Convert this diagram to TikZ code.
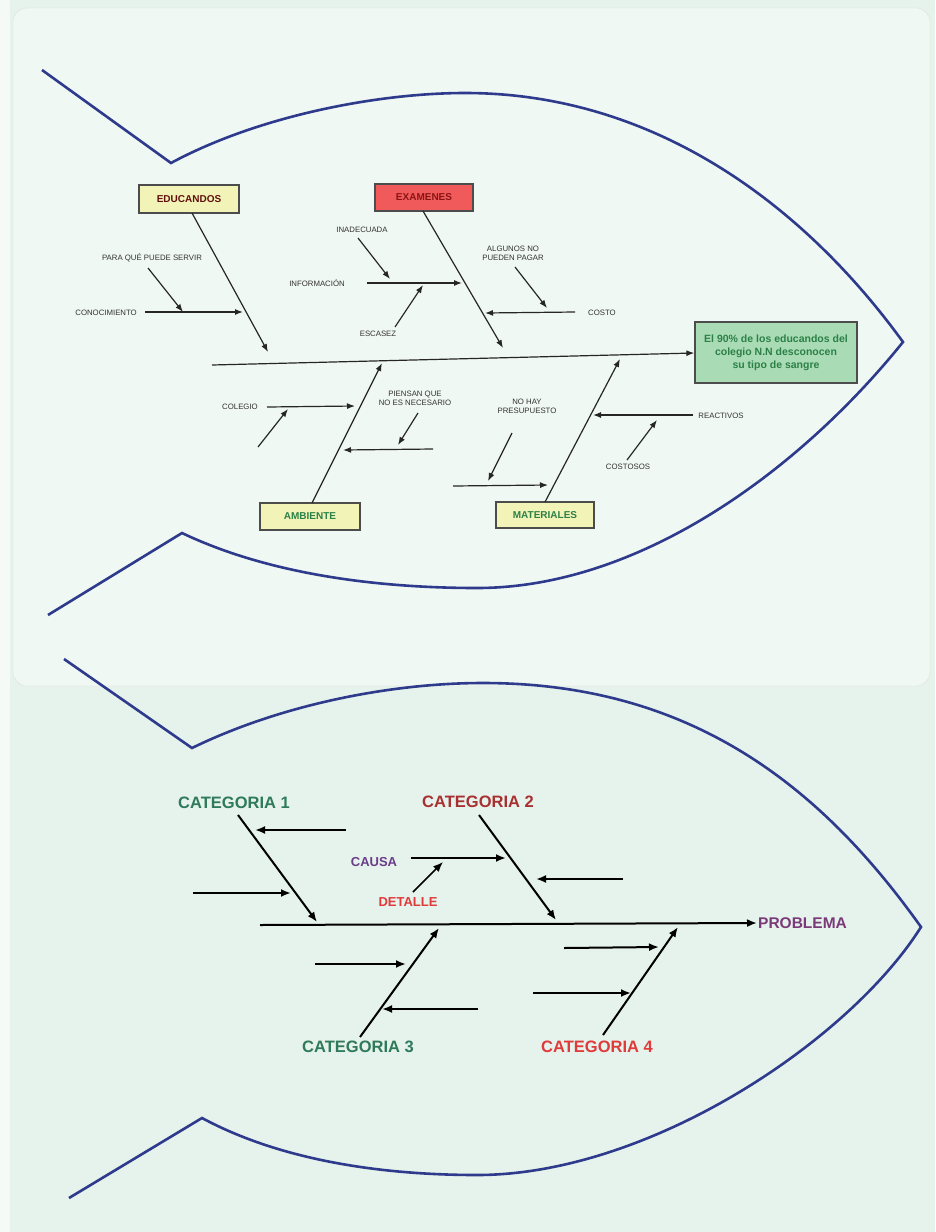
\documentclass[tikz,border=0pt]{standalone}
\usepackage{fontspec}
\setmainfont{Liberation Sans}
\usetikzlibrary{arrows.meta}
\definecolor{bgc}{HTML}{E6F2EC}
\definecolor{panelc}{HTML}{F0F8F3}
\definecolor{fishc}{HTML}{2E3A8C}
\definecolor{yelc}{HTML}{F1F4B6}
\definecolor{redc}{HTML}{F05A5A}
\definecolor{grnc}{HTML}{A9DCB4}
\definecolor{gtxt}{HTML}{2C8048}
\definecolor{rtxt}{HTML}{8A1414}
\definecolor{cat1}{HTML}{2E7A5A}
\definecolor{cat2}{HTML}{A83030}
\definecolor{cat4}{HTML}{E03A3A}
\definecolor{purp}{HTML}{6A3D8A}
\definecolor{probc}{HTML}{7A3A7A}
\begin{document}
\begin{tikzpicture}[x=1pt,y=-1pt,
  fish/.style={draw=fishc, line width=2.6pt, line join=miter},
  catbox/.style={draw=black!70, line width=1.3pt, inner sep=1pt, font=\fontsize{10}{12}\selectfont\bfseries},
  small/.style={font=\fontsize{7.8}{9}\selectfont, text=black!80, inner sep=1pt, align=center},
  bone/.style={draw=black!85, line width=1.2pt, -{Latex[length=8pt,width=6pt]}},
  bbone/.style={draw=black, line width=2pt, -{Latex[length=10pt,width=8pt]}},
  cat/.style={font=\fontsize{16.5}{18}\selectfont\bfseries, inner sep=1pt}]
\useasboundingbox (0,0) rectangle (935,1232);
\fill[bgc] (0,0) rectangle (935,1232);
\fill[white!60!bgc] (0,0) rectangle (10,1232);
\fill[panelc, draw=black!12, rounded corners=14pt] (13,8) rectangle (930,686);

% ---------------- top fish outline
\draw[fish] (42,70) -- (171,163) .. controls (260,115) and (380,93) .. (465,93)
  .. controls (650,93) and (800,200) .. (903,342)
  .. controls (800,470) and (640,588) .. (477,588)
  .. controls (380,588) and (270,575) .. (182,533) -- (48,615);

% boxes
\node[catbox, fill=yelc, text=rtxt!70!black, minimum width=100pt, minimum height=28pt] (edu) at (189,199) {EDUCANDOS};
\node[catbox, fill=redc, text=rtxt, minimum width=98pt, minimum height=27pt] (exa) at (424,197.5) {EXAMENES};
\node[catbox, fill=yelc, text=gtxt, minimum width=100pt, minimum height=27pt] (amb) at (310,516.5) {AMBIENTE};
\node[catbox, fill=yelc, text=gtxt, minimum width=98pt, minimum height=26pt] (mat) at (545,515) {MATERIALES};
\node[draw=black!70, line width=1.3pt, fill=grnc, text=gtxt, minimum width=162pt, minimum height=61pt,
  align=center, font=\fontsize{10.5}{13}\selectfont\bfseries, inner sep=1pt] (prob) at (776,352.5)
  {El 90\% de los educandos del\\colegio N.N desconocen\\su tipo de sangre};

% spine
\coordinate (sp0) at (212,365);
\draw[bone] (sp0) -- (prob.west |- 0,353);

% main bones
\coordinate (eduB) at (192,213); \coordinate (eduT) at (268,352);
\coordinate (exaB) at (423,211); \coordinate (exaT) at (503,348);
\coordinate (ambB) at (312,503); \coordinate (ambT) at (382,363);
\coordinate (matB) at (545,502); \coordinate (matT) at (620,359);
\draw[bone] (eduB) -- (eduT);
\draw[bone] (exaB) -- (exaT);
\draw[bone] (ambB) -- (ambT);
\draw[bone] (matB) -- (matT);

% EDUCANDOS causes
\node[small] (para) at (152,258) {PARA QUÉ PUEDE SERVIR};
\node[small, anchor=east] (cono) at (138,313) {CONOCIMIENTO};
\coordinate (c1a) at (145,312); \coordinate (c1b) at (243,312);
\coordinate (c2a) at (148,268); \coordinate (c2b) at (183,312);
\draw[bone] (c1a) -- (c1b);
\draw[bone] (c2a) -- (c2b);

% EXAMENES causes
\node[small] (inad) at (362,230) {INADECUADA};
\node[small] (info) at (317,283) {INFORMACIÓN};
\node[small] (esca) at (378,334) {ESCASEZ};
\node[small] (algu) at (513,253) {ALGUNOS NO\\PUEDEN PAGAR};
\node[small] (cost) at (602,313) {COSTO};
\coordinate (e1a) at (358,238); \coordinate (e1b) at (390,279);
\coordinate (e2a) at (367,283); \coordinate (e2b) at (462,283);
\coordinate (e3a) at (395,327); \coordinate (e3b) at (423,285);
\coordinate (e4a) at (515,267); \coordinate (e4b) at (547,308);
\coordinate (e5a) at (575,312); \coordinate (e5b) at (485,313);
\draw[bone] (e1a) -- (e1b);
\draw[bone] (e2a) -- (e2b);
\draw[bone] (e3a) -- (e3b);
\draw[bone] (e4a) -- (e4b);
\draw[bone] (e5a) -- (e5b);

% AMBIENTE causes
\node[small] (cole) at (240,407) {COLEGIO};
\node[small] (pien) at (415,398) {PIENSAN QUE\\NO ES NECESARIO};
\coordinate (a1a) at (267,407); \coordinate (a1b) at (355,406);
\coordinate (a2a) at (258,447); \coordinate (a2b) at (288,409);
\coordinate (a3a) at (418,413); \coordinate (a3b) at (398,445);
\coordinate (a4a) at (433,449); \coordinate (a4b) at (343,450);
\draw[bone] (a1a) -- (a1b);
\draw[bone] (a2a) -- (a2b);
\draw[bone] (a3a) -- (a3b);
\draw[bone] (a4a) -- (a4b);

% MATERIALES causes
\node[small] (nohay) at (527,406) {NO HAY\\PRESUPUESTO};
\node[small] (reac) at (721,416) {REACTIVOS};
\node[small] (costo2) at (628,467) {COSTOSOS};
\coordinate (m1a) at (512,433); \coordinate (m1b) at (488,481);
\coordinate (m2a) at (453,486); \coordinate (m2b) at (548,485);
\coordinate (m3a) at (693,415); \coordinate (m3b) at (593,415);
\coordinate (m4a) at (627,460); \coordinate (m4b) at (657,420);
\draw[bone] (m1a) -- (m1b);
\draw[bone] (m2a) -- (m2b);
\draw[bone] (m3a) -- (m3b);
\draw[bone] (m4a) -- (m4b);

% ---------------- bottom fish outline
\draw[fish] (64,659) -- (192,748) .. controls (280,705) and (390,683) .. (483,683)
  .. controls (690,683) and (820,785) .. (921,927)
  .. controls (850,1040) and (650,1175) .. (477,1175)
  .. controls (380,1175) and (280,1160) .. (202,1118) -- (69,1198);

\node[cat, text=cat1] (k1) at (234,803) {CATEGORIA 1};
\node[cat, text=cat2] (k2) at (478,802) {CATEGORIA 2};
\node[cat, text=cat1] (k3) at (358,1047) {CATEGORIA 3};
\node[cat, text=cat4] (k4) at (597,1047) {CATEGORIA 4};
\node[cat, text=probc, anchor=west, font=\fontsize{15.5}{17}\selectfont\bfseries] (pb) at (757,923) {PROBLEMA};
\node[font=\fontsize{13}{15}\selectfont\bfseries, text=purp, inner sep=1pt] (causa) at (374,862) {CAUSA};
\node[font=\fontsize{13}{15}\selectfont\bfseries, text=cat4, inner sep=1pt] (det) at (408,902) {DETALLE};

\coordinate (bsp) at (260,925);
\draw[bbone] (bsp) -- (pb.west);

\coordinate (k1b) at (238,815); \coordinate (k1t) at (317,922);
\coordinate (k2b) at (479,815); \coordinate (k2t) at (556,920);
\coordinate (k3b) at (360,1037); \coordinate (k3t) at (439,928);
\coordinate (k4b) at (603,1035); \coordinate (k4t) at (678,927);
\draw[bbone] (k1b) -- (k1t);
\draw[bbone] (k2b) -- (k2t);
\draw[bbone] (k3b) -- (k3t);
\draw[bbone] (k4b) -- (k4t);

\coordinate (b1a) at (346,830); \coordinate (b1b) at (255,830);
\coordinate (b2a) at (193,893); \coordinate (b2b) at (291,893);
\coordinate (b3a) at (411,858); \coordinate (b3b) at (506,858);
\coordinate (b4a) at (413,892); \coordinate (b4b) at (443,862);
\coordinate (b5a) at (623,879); \coordinate (b5b) at (536,879);
\coordinate (b6a) at (315,964); \coordinate (b6b) at (406,964);
\coordinate (b7a) at (478,1009); \coordinate (b7b) at (382,1009);
\coordinate (b8a) at (564,948); \coordinate (b8b) at (659,947);
\coordinate (b9a) at (533,993); \coordinate (b9b) at (631,993);
\draw[bbone] (b1a) -- (b1b);
\draw[bbone] (b2a) -- (b2b);
\draw[bbone] (b3a) -- (b3b);
\draw[bbone, line width=1.5pt] (b4a) -- (b4b);
\draw[bbone] (b5a) -- (b5b);
\draw[bbone] (b6a) -- (b6b);
\draw[bbone] (b7a) -- (b7b);
\draw[bbone] (b8a) -- (b8b);
\draw[bbone] (b9a) -- (b9b);
\end{tikzpicture}
\end{document}
